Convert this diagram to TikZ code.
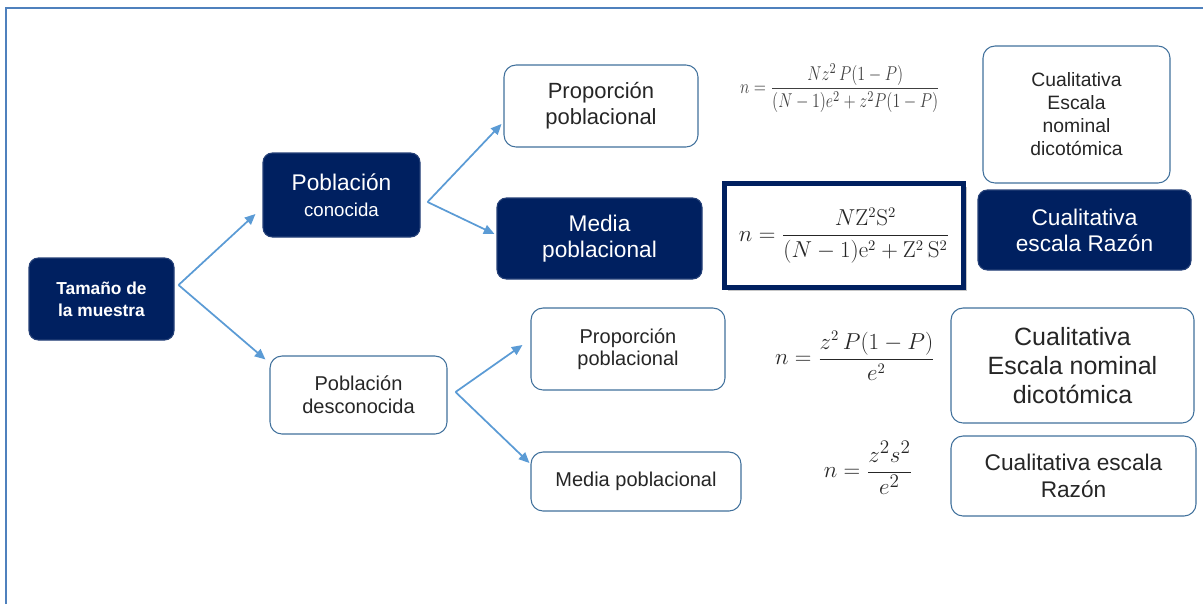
\documentclass[tikz,border=0pt]{standalone}
\usepackage{amsmath}
\usepackage{graphicx}
\usepackage[no-math]{fontspec}
\setmainfont{Liberation Sans}
\usetikzlibrary{arrows.meta,calc,shadows}
\definecolor{navy}{RGB}{0,32,96}
\definecolor{edgeblue}{RGB}{65,113,156}
\definecolor{arrowblue}{RGB}{91,155,213}
\definecolor{framebl}{RGB}{79,129,189}
\definecolor{txt}{RGB}{38,38,38}
\tikzset{
  darkbox/.style={draw=navy!85!white, fill=navy, text=white, rounded corners=7pt,
    line width=0.8pt, align=center, inner sep=0pt},
  lightbox/.style={draw=edgeblue, fill=white, text=txt, rounded corners=9pt,
    line width=0.8pt, align=center, inner sep=0pt},
  link/.style={draw=arrowblue, line width=1.3pt,
    -{Triangle[length=8pt,width=7pt]}},
  formula/.style={inner sep=0pt, text=txt},
}
\begin{document}
\begin{tikzpicture}[x=0.75pt,y=-0.75pt]
\useasboundingbox (0,0) rectangle (1203,604);
% outer frame (only top and left edges lie inside the page)
\draw[framebl, line width=1.6pt] (6,604) -- (6,8) -- (1203,8);

% root
\node[darkbox, minimum width=108.75pt, minimum height=61.5pt,
  font=\fontsize{13}{16.5}\selectfont\bfseries] (tam) at (101.5,299) {Tamaño de\\la muestra};

% known population branch
\node[darkbox, minimum width=117.75pt, minimum height=63pt,
  font=\fontsize{17}{19.5}\selectfont] (pc) at (341.5,195)
  {Población\\{\fontsize{14}{19.5}\selectfont conocida}};
\node[lightbox, minimum width=145.5pt, minimum height=61.5pt,
  font=\fontsize{16.5}{19.5}\selectfont] (pp1) at (601,106) {Proporción\\poblacional};
\node[darkbox, minimum width=153.75pt, minimum height=60.75pt,
  font=\fontsize{17}{20}\selectfont] (mp1) at (599.5,238.5) {Media\\poblacional};

\node[formula, font=\fontsize{13}{15}\selectfont, text=black!75] (f1) at (840,88)
  {\scalebox{1}[1.25]{$n=\dfrac{Nz^2\,P(1-P)}{(N-1)e^2+z^2P(1-P)}$}};
\node[draw=navy, line width=3.75pt, fill=white, minimum width=179.25pt, minimum height=78pt,
  drop shadow={shadow xshift=2.5pt, shadow yshift=-2.5pt, opacity=0.45},
  font=\fontsize{16}{19}\selectfont, text=txt] (f2) at (844,235.5)
  {$n=\dfrac{N\mathrm{Z}^2\mathrm{S}^2}{(N-1)\mathrm{e}^2+\mathrm{Z}^2\,\mathrm{S}^2}$};

\node[lightbox, minimum width=140.25pt, minimum height=102.75pt,
  font=\fontsize{14.5}{17.25}\selectfont] (cq1) at (1076.5,114.5)
  {Cualitativa\\Escala\\nominal\\dicotómica};
\node[darkbox, minimum width=159.75pt, minimum height=60pt,
  font=\fontsize{17}{19.5}\selectfont] (cr1) at (1084.5,230)
  {Cualitativa\\escala Razón};

% unknown population branch
\node[lightbox, minimum width=132.75pt, minimum height=58.5pt,
  font=\fontsize{15}{17}\selectfont] (pd) at (358.5,395) {Población\\desconocida};
\node[lightbox, minimum width=145.5pt, minimum height=61.5pt,
  font=\fontsize{15}{16.5}\selectfont] (pp2) at (628,349) {Proporción\\poblacional};
\node[lightbox, minimum width=157.5pt, minimum height=44.25pt,
  font=\fontsize{15}{17}\selectfont] (mp2) at (636,481.5) {Media poblacional};

\node[formula, font=\fontsize{16}{19}\selectfont] (f3) at (855,356)
  {$n=\dfrac{z^2\,P(1-P)}{e^2}$};
\node[formula, font=\fontsize{19}{22}\selectfont] (f4) at (868,468)
  {$n=\dfrac{z^2s^2}{e^2}$};

\node[lightbox, minimum width=182.25pt, minimum height=86.25pt,
  font=\fontsize{18.75}{22}\selectfont] (cq2) at (1072.5,365.5)
  {Cualitativa\\Escala nominal\\dicotómica};
\node[lightbox, minimum width=183.75pt, minimum height=60pt,
  font=\fontsize{17}{20}\selectfont] (cr2) at (1073.5,476)
  {Cualitativa escala\\Razón};

% branching points
\coordinate (v0) at ($(tam.east)+(4,-14)$);
\coordinate (v1) at ($(pc.east)+(7,7)$);
\coordinate (v2) at ($(pd.east)+(8,-3)$);

\draw[link] (v0) -- ($(pc.west)+(-7,19)$);
\draw[link] (v0) -- ($(pd.north west)+(-4,4)$);
\draw[link] (v1) -- ($(pp1.west)+(-2,18)$);
\draw[link] (v1) -- ($(mp1.west)+(-2,-4.5)$);
\draw[link] (v2) -- ($(pp2.west)+(-8,-4)$);
\draw[link] (v2) -- ($(mp2.west)+(-1,-18.5)$);
\end{tikzpicture}
\end{document}
